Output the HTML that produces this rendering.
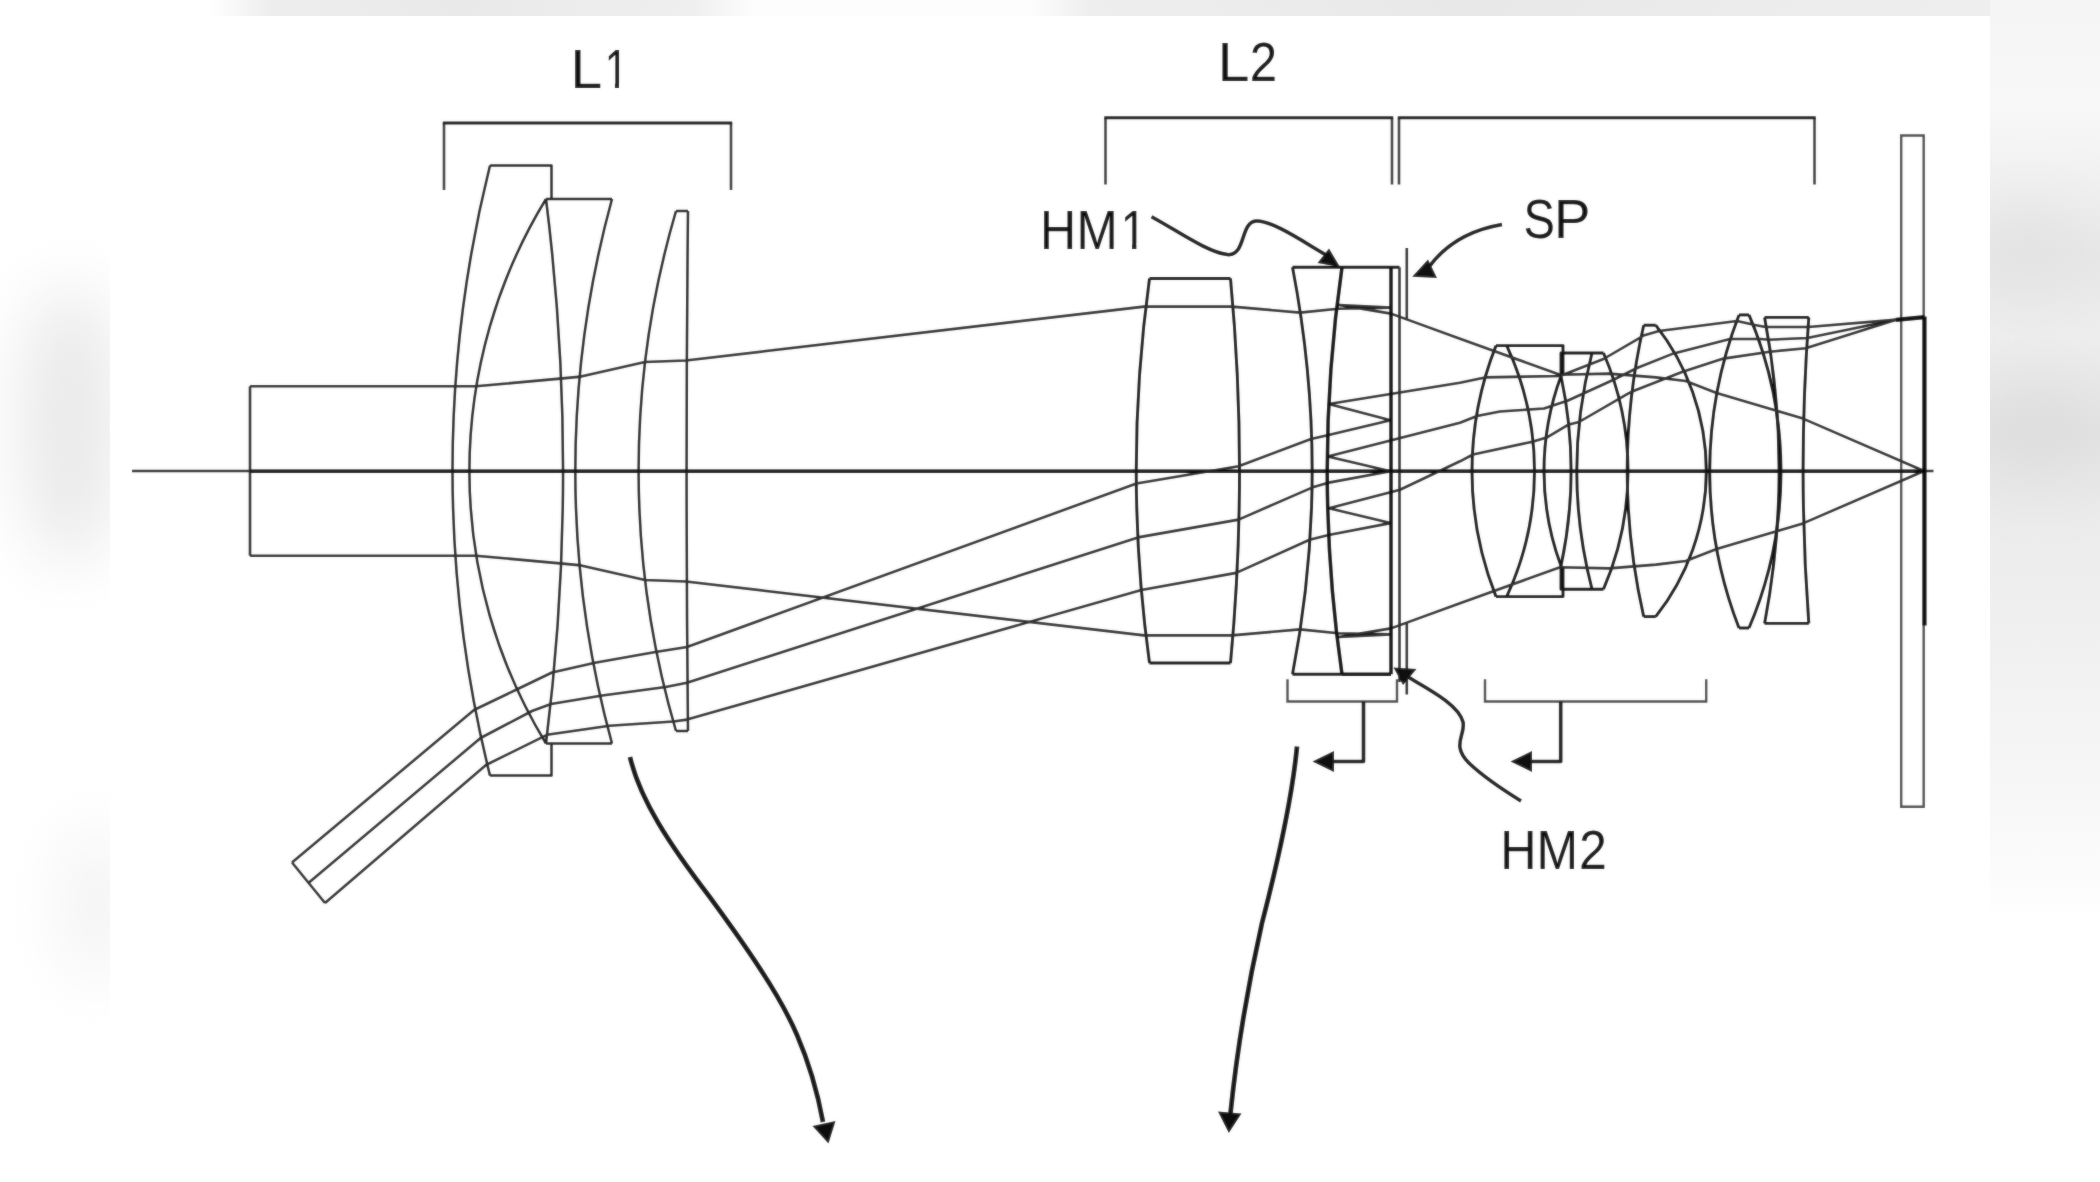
<!DOCTYPE html>
<html lang="en">
<head>
<meta charset="utf-8">
<title>Lens diagram</title>
<style>
html,body{margin:0;padding:0;}
body{width:2100px;height:1182px;overflow:hidden;position:relative;background:#f4f4f4;font-family:"Liberation Sans",sans-serif;}
#bg{position:absolute;left:0;top:0;width:2100px;height:1182px;}
#panel{position:absolute;left:110px;top:16px;width:1880px;height:1166px;background:#fff;}
svg{position:absolute;left:0;top:0;}
text{font-family:"Liberation Sans",sans-serif;fill:#0a0a0a;}
</style>
</head>
<body>
<svg id="bg" width="2100" height="1182" viewBox="0 0 2100 1182">
<defs>
<filter id="bl" x="-30%" y="-30%" width="160%" height="160%"><feGaussianBlur stdDeviation="32"/></filter>
<linearGradient id="rg" x1="0" y1="0" x2="0" y2="1">
<stop offset="0" stop-color="#f5f5f5"/><stop offset="0.09" stop-color="#f8f8f8"/>
<stop offset="0.16" stop-color="#efefef"/><stop offset="0.215" stop-color="#e7e7e7"/>
<stop offset="0.285" stop-color="#ededed"/><stop offset="0.365" stop-color="#e2e2e2"/>
<stop offset="0.45" stop-color="#ececec"/><stop offset="0.6" stop-color="#f3f3f3"/>
<stop offset="0.72" stop-color="#fafafa"/><stop offset="0.78" stop-color="#ffffff"/>
<stop offset="1" stop-color="#ffffff"/>
</linearGradient>
<linearGradient id="tg" x1="0" y1="0" x2="1" y2="0">
<stop offset="0" stop-color="#ffffff"/><stop offset="0.10" stop-color="#ffffff"/>
<stop offset="0.13" stop-color="#ededed"/><stop offset="0.22" stop-color="#e9e9e9"/>
<stop offset="0.33" stop-color="#efefef"/><stop offset="0.36" stop-color="#fdfdfd"/>
<stop offset="0.49" stop-color="#fdfdfd"/><stop offset="0.52" stop-color="#eeeeee"/>
<stop offset="0.70" stop-color="#e8e8e8"/><stop offset="0.85" stop-color="#ececec"/>
<stop offset="1" stop-color="#f0f0f0"/>
</linearGradient>
</defs>
<rect x="0" y="0" width="2100" height="1182" fill="#ffffff"/>
<rect x="0" y="0" width="2100" height="16" fill="url(#tg)"/>
<rect x="1990" y="0" width="110" height="1182" fill="url(#rg)"/>
<g filter="url(#bl)">
<ellipse cx="70" cy="425" rx="50" ry="140" fill="#e9e9e9"/>
<ellipse cx="95" cy="905" rx="30" ry="80" fill="#f1f1f1"/>
<ellipse cx="2040" cy="430" rx="40" ry="40" fill="#dcdcdc"/>
<ellipse cx="2030" cy="250" rx="40" ry="35" fill="#e0e0e0"/>
</g>
</svg>
<div id="panel"></div>
<svg id="dg" width="2100" height="1182" viewBox="0 0 2100 1182">
<defs><filter id="soft" x="0" y="0" width="2100" height="1182" filterUnits="userSpaceOnUse"><feGaussianBlur stdDeviation="1"/></filter>
<g id="art">
<g fill="none" stroke="#444" stroke-width="2.4"><path d="M1901.2 135.5H1923.7V806.8H1901.2Z"/><path d="M1287.5 679.3L1287.5 701.5L1397.0 701.5L1397.0 679.3"/><path d="M1485.0 679.3L1485.0 701.5L1706.2 701.5L1706.2 679.3"/></g>
<g fill="none" stroke="#181818" stroke-width="2.5" stroke-linejoin="round"><path d="M490.0 165.5A1259.5 1259.5 0 0 0 490.0 775.6"/><path d="M546.0 199.0A522.1 522.1 0 0 0 546.0 743.5"/><path d="M490.0 165.5L551.5 165.5L551.5 199.0"/><path d="M490.0 775.6L551.5 775.6L551.5 743.5"/><path d="M546.0 199.0A2188.5 2188.5 0 0 1 546.0 743.5"/><path d="M612.0 199.0A1028.2 1028.2 0 0 0 612.0 743.5"/><path d="M546.0 199.0L612.0 199.0"/><path d="M546.0 743.5L612.0 743.5"/><path d="M676.0 211.0A922.4 922.4 0 0 0 676.0 731.0"/><path d="M688.0 211.0A24143.6 24143.6 0 0 0 688.0 731.0"/><path d="M676.0 211.0L688.0 211.0"/><path d="M676.0 731.0L688.0 731.0"/></g>
<g fill="none" stroke="#080808" stroke-width="2.9" stroke-linejoin="round"><path d="M1149.5 278.5A1406.6 1406.6 0 0 0 1149.5 663.0"/><path d="M1230.5 278.5A2057.8 2057.8 0 0 1 1230.5 663.0"/><path d="M1149.5 278.5L1230.5 278.5"/><path d="M1149.5 663.0L1230.5 663.0"/><path d="M1292.5 267.3A1071.6 1071.6 0 0 1 1292.5 674.3"/><path d="M1292.5 267.3L1399.5 267.3"/><path d="M1292.5 674.3L1342.0 674.3"/><path d="M1496.0 345.6A340.1 340.1 0 0 0 1496.0 596.6"/><path d="M1506.7 345.6A297.2 297.2 0 0 1 1506.7 596.6"/><path d="M1496.0 345.6L1563.0 345.6L1563.0 376.0"/><path d="M1496.0 596.6L1563.0 596.6L1563.0 566.0"/><path d="M1561.0 376.0A273.9 273.9 0 0 0 1561.0 566.0"/><path d="M1561.0 376.0A456.2 456.2 0 0 1 1561.0 566.0"/><path d="M1561.0 376.0L1561.0 353.0L1603.5 353.0"/><path d="M1561.0 566.0L1561.0 589.2L1603.5 589.2"/><path d="M1592.0 353.0A472.4 472.4 0 0 0 1592.0 589.2"/><path d="M1603.5 353.0A296.9 296.9 0 0 1 1603.5 589.2"/><path d="M1643.7 325.2A659.3 659.3 0 0 0 1643.7 616.6"/><path d="M1655.7 325.2A235.1 235.1 0 0 1 1655.7 616.6"/><path d="M1643.7 325.2L1655.7 325.2"/><path d="M1643.7 616.6L1655.7 616.6"/><path d="M1739.0 314.9A432.9 432.9 0 0 0 1739.0 628.0"/><path d="M1749.0 314.9A398.9 398.9 0 0 1 1749.0 628.0"/><path d="M1739.0 314.9L1749.0 314.9"/><path d="M1739.0 628.0L1749.0 628.0"/><path d="M1764.6 317.4A820.0 820.0 0 0 1 1764.6 623.4"/><path d="M1808.8 317.4A2056.3 2056.3 0 0 0 1808.8 623.4"/><path d="M1764.6 317.4L1808.8 317.4"/><path d="M1764.6 623.4L1808.8 623.4"/></g>
<g fill="none" stroke="#242424" stroke-width="2.6" stroke-linejoin="round"><path d="M1399.5 267.3L1399.5 682.0"/><path d="M1406.8 248.0L1406.8 319.3"/><path d="M1406.8 622.7L1406.8 694.5"/><path d="M132.0 471.0L1933.5 471.0"/><path d="M250.0 386.3L456.0 386.3L476.0 386.3L560.0 378.6L581.0 376.6L645.0 362.0L686.0 360.5L1144.0 306.6L1232.0 306.6L1300.0 312.6L1338.0 308.8L1391.0 307.6L1339.0 305.0L1391.0 313.6L1460.0 338.8L1560.0 374.7L1609.0 373.6L1656.0 377.4L1685.7 381.0L1716.6 393.0L1777.4 411.0L1803.0 418.6L1924.0 471.0"/><path d="M250.0 555.7L456.0 555.7L476.0 555.7L560.0 563.4L581.0 565.4L645.0 580.0L686.0 581.5L1144.0 635.4L1232.0 635.4L1300.0 629.4L1338.0 633.2L1391.0 634.4L1339.0 637.0L1391.0 628.4L1460.0 603.2L1560.0 567.3L1609.0 568.4L1656.0 564.6L1685.7 561.0L1716.6 549.0L1777.4 531.0L1803.0 523.4L1924.0 471.0"/><path d="M250.0 386.3L250.0 555.7"/><path d="M292.0 862.5L474.0 710.0L519.8 688.0L552.0 672.5L595.0 662.8L655.5 652.0L687.0 647.0L1136.5 483.5L1238.6 466.3L1311.0 439.0L1327.6 435.3L1390.5 420.3L1328.8 404.0L1460.0 382.8L1485.0 377.4L1560.0 376.0L1603.5 359.0L1641.5 336.8L1643.5 335.4L1659.0 331.0L1737.0 321.0L1755.0 325.0L1765.4 327.0L1808.3 327.0L1897.0 319.6L1924.0 317.2"/><path d="M308.7 882.8L480.6 738.0L532.0 711.0L551.0 704.0L602.3 695.5L665.7 687.0L687.0 682.8L1138.0 537.4L1238.6 519.6L1312.0 487.6L1327.4 482.9L1390.5 471.2L1327.8 456.5L1460.0 422.7L1477.0 416.0L1500.0 411.5L1544.0 408.5L1568.0 400.5L1613.0 380.0L1637.0 368.0L1673.7 353.4L1730.0 339.0L1761.0 339.0L1769.0 339.7L1807.4 338.0L1897.0 319.6L1924.0 317.2"/><path d="M325.0 903.0L486.0 765.0L547.0 734.8L609.5 725.8L673.4 721.5L687.0 719.6L1141.4 590.0L1236.2 572.9L1309.6 539.7L1328.6 535.0L1390.5 523.1L1329.0 508.3L1400.0 489.7L1460.0 461.3L1473.0 454.5L1532.4 441.7L1546.6 437.6L1568.0 424.8L1579.0 422.0L1628.0 393.6L1633.4 391.0L1682.0 372.0L1723.4 358.6L1769.7 351.7L1805.7 348.3L1897.0 319.6L1924.0 317.2"/><path d="M292.0 862.5L325.0 903.0"/></g>
<g fill="none" stroke="#0a0a0a" stroke-width="3.4"><path d="M250.0 471.2L1924.0 471.2"/></g>
<g fill="none" stroke="#000" stroke-width="4.2"><path d="M1924.5 316.6L1924.5 625.4"/><path d="M1896.0 319.8L1924.5 317.2"/></g>
<g fill="none" stroke="#000" stroke-width="3.5"><path d="M1342.0 267.3A1415.9 1415.9 0 0 0 1342.0 674.3"/><path d="M1342.0 674.3L1391.0 674.3"/><path d="M1391.0 267.3L1391.0 674.3"/></g>
<g fill="none" stroke="#333" stroke-width="2.6"><path d="M444.0 123.0L444.0 190.0"/><path d="M731.0 123.0L731.0 190.0"/><path d="M1105.5 117.8L1105.5 184.5"/><path d="M1392.0 117.8L1392.0 184.5"/><path d="M1399.0 117.8L1399.0 184.5"/><path d="M1814.5 117.8L1814.5 184.5"/></g>
<g fill="none" stroke="#111" stroke-width="3.1"><path d="M442.8 123.0L732.2 123.0"/><path d="M1104.3 117.8L1393.2 117.8"/><path d="M1397.8 117.8L1815.7 117.8"/></g>
<g fill="none" stroke="#141414" stroke-width="3.6" stroke-linejoin="round"><path d="M1363.5 701.5L1363.5 761.5L1330.0 761.5"/><path d="M1560.7 701.5L1560.7 761.5L1528.0 761.5"/></g>
<g fill="#111" stroke="none"><path d="M1312.5 761.5L1334 751V772Z"/><path d="M1510.5 761.5L1532 751V772Z"/></g>

<!-- HM1 leader -->
<path d="M1151.5 216.7C1178 231 1207 252 1227.5 254.6C1246 256.5 1240 222 1256 221C1272 220 1305 243 1328 256" fill="none" stroke="#111" stroke-width="3.5"/>
<path d="M1340 267L1317.5 263L1329 248.5Z" fill="#111"/>
<!-- SP leader -->
<path d="M1502 224.5C1470 230 1445 245 1429 267" fill="none" stroke="#111" stroke-width="3.5"/>
<path d="M1412.2 276.8L1428 259.5L1437 278Z" fill="#111"/>
<!-- HM2 leader -->
<path d="M1521 801C1500 788 1485 778 1470 764C1450 745 1466 735 1463 722C1459 705 1430 690 1408 677" fill="none" stroke="#111" stroke-width="3.5"/>
<path d="M1393.5 667.5L1416.5 669L1403 685Z" fill="#111"/>

<!-- big arrows -->
<path d="M630 757C640 800 670 845 709 896C745 945 780 995 797 1035C810 1065 818 1095 823 1122" fill="none" stroke="#0c0c0c" stroke-width="4.7"/>
<path d="M828.5 1143.5L812.5 1126L835.5 1121Z" fill="#0c0c0c"/>
<path d="M1297 746.5C1292 800 1277 865 1262 923C1248 985 1237 1050 1230.5 1113" fill="none" stroke="#0c0c0c" stroke-width="4.7"/>
<path d="M1228.8 1133L1218 1111.5L1241.5 1113.5Z" fill="#0c0c0c"/>

<!-- labels -->
<g id="labels">
<text transform="translate(570.53 88.00) scale(1.0542 1.030)" font-size="54">L</text><text transform="translate(604.69 88.00) scale(0.7796 1.030)" font-size="54">1</text><rect x="606.40" y="82.80" width="8.53" height="7" fill="#fff"/><rect x="619.00" y="82.80" width="8.55" height="7" fill="#fff"/>
<text transform="translate(1217.83 81.20) scale(1.0542 1.030)" font-size="54">L</text><text transform="translate(1249.83 81.20) scale(0.9105 1.030)" font-size="54">2</text>
<text transform="translate(1039.89 249.20) scale(0.9283 1.030)" font-size="54">H</text><text transform="translate(1076.54 249.20) scale(0.9163 1.030)" font-size="54">M</text><text transform="translate(1120.80 249.20) scale(0.8498 1.030)" font-size="54">1</text><rect x="1122.80" y="244.00" width="9.19" height="7" fill="#fff"/><rect x="1136.40" y="244.00" width="9.19" height="7" fill="#fff"/>
<text transform="translate(1523.46 238.00) scale(0.8717 1.030)" font-size="54">S</text><text transform="translate(1554.11 237.90) scale(1.0125 1.030)" font-size="54">P</text>
<text transform="translate(1500.17 869.20) scale(0.9316 1.030)" font-size="54">H</text><text transform="translate(1536.50 869.20) scale(0.9246 1.030)" font-size="54">M</text><text transform="translate(1579.08 869.20) scale(0.9268 1.030)" font-size="54">2</text>
</g>
</g>
</defs>
<use href="#art"/>
<g filter="url(#soft)" opacity="0.45"><rect x="111" y="17" width="1878" height="1165" fill="#fff"/><use href="#art"/></g>
</svg>
</body>
</html>
